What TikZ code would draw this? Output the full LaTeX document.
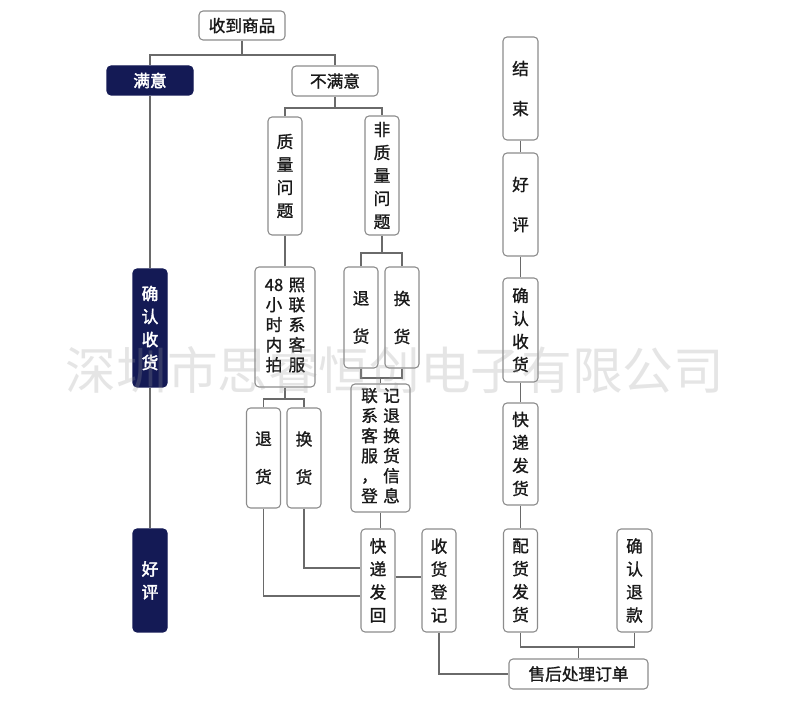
\documentclass[tikz,border=0pt]{standalone}
\usepackage{fontspec}
\newfontfamily\cjk[FakeBold=1.2]{Noto Sans CJK SC}
\newfontfamily\cjkb[FakeBold=2.5]{Noto Sans CJK SC}
\newfontfamily\cjkwm{Noto Sans CJK SC}
\definecolor{navy}{HTML}{141A55}
\definecolor{bord}{HTML}{8C8C8C}
\definecolor{conn}{HTML}{6A6A6A}
\definecolor{wmark}{HTML}{9A9A9A}
\begin{document}
\begin{tikzpicture}[x=0.75pt,y=-0.75pt,
  box/.style={draw=bord, line width=0.8pt, rounded corners=3pt, fill=white, inner sep=0pt, align=center, text=black!90,
    font=\cjk\fontsize{12.5}{17.25}\selectfont},
  nbox/.style={box, draw=navy, fill=navy, text=white, font=\cjkb\fontsize{12.5}{17.25}\selectfont},
  sz/.style 2 args={minimum width=#1*0.75pt, minimum height=#2*0.75pt},
  wide/.style={font=\cjk\fontsize{12.5}{28.5}\selectfont},
  wider/.style={font=\cjk\fontsize{12.5}{30}\selectfont},
  tight/.style={font=\cjk\fontsize{12.5}{15}\selectfont},
  conn/.style={draw=conn, line width=1.1pt},
  wm/.style={text=wmark, opacity=0.25, inner sep=0pt, font=\cjkwm\fontsize{38}{38}\selectfont}
]
\fill[white] (0,0) rectangle (790,723);
\useasboundingbox (0,0) rectangle (790,723);

% nodes
\node[box, sz={86}{29}] (recv) at (242,25.5) {收到商品};
\node[nbox, sz={86}{29}] (sat) at (150,80.5) {满意};
\node[box, sz={86}{30}] (unsat) at (335,81) {不满意};
\node[box, sz={34}{118}] (q) at (285,176) {质\\量\\问\\题};
\node[box, sz={34}{119}] (nq) at (382,175.5) {非\\质\\量\\问\\题};
\node[box, sz={60}{120}, tight] (h48) at (285,327) {\begin{tabular}{@{}c@{\hspace{4pt}}c@{}}48&照\\小&联\\时&系\\内&客\\拍&服\end{tabular}};
\node[box, sz={34}{101}, wide] (tr1) at (361,317.5) {退\\货};
\node[box, sz={34}{101}, wide] (hh1) at (402,317.5) {换\\货};
\node[box, sz={59}{128}, tight] (lx) at (380.5,448) {\begin{tabular}{@{}c@{\hspace{4pt}}c@{}}联&记\\系&退\\客&换\\服&货\\，&信\\登&息\end{tabular}};
\node[box, sz={34}{100}, wide] (tr2) at (263.5,458) {退\\货};
\node[box, sz={34}{100}, wide] (hh2) at (304,458) {换\\货};
\node[box, sz={34}{103}] (kdfh) at (378,580.5) {快\\递\\发\\回};
\node[box, sz={34}{103}] (shdj) at (439,580.5) {收\\货\\登\\记};
\node[box, sz={34}{103}] (phfh) at (520.5,580.5) {配\\货\\发\\货};
\node[box, sz={35}{103}] (qrtk) at (634.5,580.5) {确\\认\\退\\款};
\node[box, sz={139}{30}] (shcl) at (578.5,674) {售后处理订单};
\node[box, sz={35}{103}, wider] (js) at (520.5,88.5) {结\\束};
\node[box, sz={35}{103}, wider] (hp) at (520.5,204.5) {好\\评};
\node[box, sz={35}{104}] (qrsh) at (520.5,330) {确\\认\\收\\货};
\node[box, sz={35}{102}] (kdfhuo) at (520.5,454) {快\\递\\发\\货};
\node[nbox, sz={34}{118}] (nqrsh) at (150,328) {确\\认\\收\\货};
\node[nbox, sz={34}{103}] (nhp) at (150,580.5) {好\\评};

% junctions
\coordinate (j1) at (242,55);
\coordinate (j2) at (335,108);
\coordinate (j3) at (382,253);
\coordinate (j4) at (380.5,378);
\coordinate (j5) at (285,399);
\coordinate (j6) at (578.5,647);

% connectors
\draw[conn] (recv) -- (j1);
\draw[conn] (sat) |- (j1) -| (unsat);
\draw[conn] (sat) -- (nqrsh);
\draw[conn] (nqrsh) -- (nhp);
\draw[conn] (unsat) -- (j2);
\draw[conn] (q) |- (j2) -| (nq);
\draw[conn] (q) -- (h48);
\draw[conn] (nq) -- (j3);
\draw[conn] (tr1) |- (j3) -| (hh1);
\draw[conn] (tr1) |- (j4) -| (hh1);
\draw[conn] (j4) -- (lx);
\draw[conn] (h48) -- (j5);
\draw[conn] (tr2) |- (j5) -| (hh2);
\draw[conn] (tr2.south) |- ([yshift=-11.6pt]kdfh.west);
\draw[conn] (hh2.south) |- ([yshift=9.4pt]kdfh.west);
\draw[conn] (lx.south) -- (lx.south |- kdfh.north);
\draw[conn] ([yshift=2.6pt]kdfh.east) -- ([yshift=2.6pt]shdj.west);
\draw[conn] (shdj.south) |- (shcl.west);
\draw[conn] (phfh) |- (j6) -| (qrtk);
\draw[conn] (j6) -- (shcl);
\draw[conn] (js) -- (hp);
\draw[conn] (hp) -- (qrsh);
\draw[conn] (qrsh) -- (kdfhuo);
\draw[conn] (kdfhuo) -- (phfh);

% watermark
\node[wm] (wmk) at (395,370) {深圳市思睿恒创电子有限公司};
\end{tikzpicture}
\end{document}
